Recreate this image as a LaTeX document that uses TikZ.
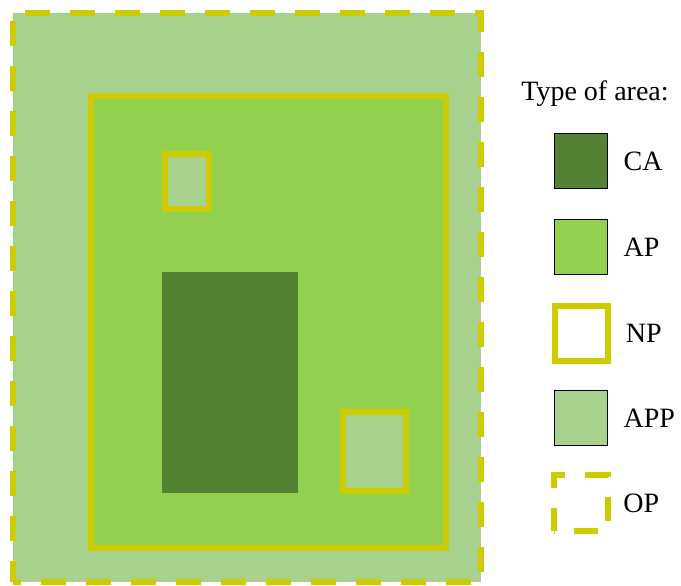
\documentclass[tikz,border=0pt]{standalone}
\usepackage{fontspec}
\setmainfont{Liberation Serif}
\usetikzlibrary{positioning}
\definecolor{opgreen}{HTML}{A9D18E}
\definecolor{apgreen}{HTML}{92D050}
\definecolor{cagreen}{HTML}{548235}
\definecolor{npyellow}{HTML}{CCCC00}
\begin{document}
\begin{tikzpicture}[x=0.5pt,y=-0.5pt]
\useasboundingbox (0,0) rectangle (681,585);
\tikzstyle{npline} = [draw=npyellow,line width=3pt]
\tikzstyle{opline} = [npline,dash pattern=on 12.5pt off 10pt]
\tikzstyle{legendbox} = [rectangle,inner sep=0pt,minimum width=26.5pt,minimum height=27.5pt]
\tikzstyle{legendtext} = [anchor=west,inner sep=0pt,font=\fontsize{14}{16}\selectfont]
%%%%%%%%%%%%%%%%%%%%%%%%%%%%%
% areas
%%%%%%%%%%%%%%%%%%%%%%%%%%%%%
\fill [opgreen] (13,13) rectangle (481,582);
\draw [opline,dash phase=2pt] (13,582) -- (13,13) -- (481,13) -- (481,582) -- cycle;
\draw [npline,fill=apgreen] (91,96) rectangle (446,548);
\fill [cagreen] (162,272) rectangle (298,493);
\draw [npline,fill=opgreen] (165,154) rectangle (209,209);
\draw [npline,fill=opgreen] (343,412) rectangle (406,491);
%%%%%%%%%%%%%%%%%%%%%%%%%%%%%
% legend
%%%%%%%%%%%%%%%%%%%%%%%%%%%%%
\node (title) [anchor=base west,inner sep=0pt,font=\fontsize{14}{16}\selectfont] at (521,100){Type of area:};
\node (ca) [legendbox,draw=black,line width=0.75pt,fill=cagreen] at (581,161){};
\node (ap) [legendbox,draw=black,line width=0.75pt,fill=apgreen] at ([yshift=-43pt]ca.center){};
\node (np) [legendbox,npline,fill=white] at ([yshift=-43pt]ap.center){};
\node (app) [legendbox,draw=black,line width=0.75pt,fill=opgreen] at ([yshift=-42.5pt]np.center){};
\node (op) [legendbox] at ([yshift=-42.5pt]app.center){};
\draw [npline,dash pattern=on 12pt off 10pt,dash phase=0.5pt] (op.south west) -- (op.north west) -- (op.north east) -- (op.south east) -- cycle;
\node (ca_t) [legendtext] at ([xshift=7.5pt]ca.east){CA};
\node (ap_t) [legendtext] at ([xshift=7.5pt]ap.east){AP};
\node (np_t) [legendtext] at ([xshift=7.5pt]np.east){NP};
\node (app_t) [legendtext] at ([xshift=7.5pt]app.east){APP};
\node (op_t) [legendtext] at ([xshift=7.5pt]op.east){OP};
\end{tikzpicture}
\end{document}
